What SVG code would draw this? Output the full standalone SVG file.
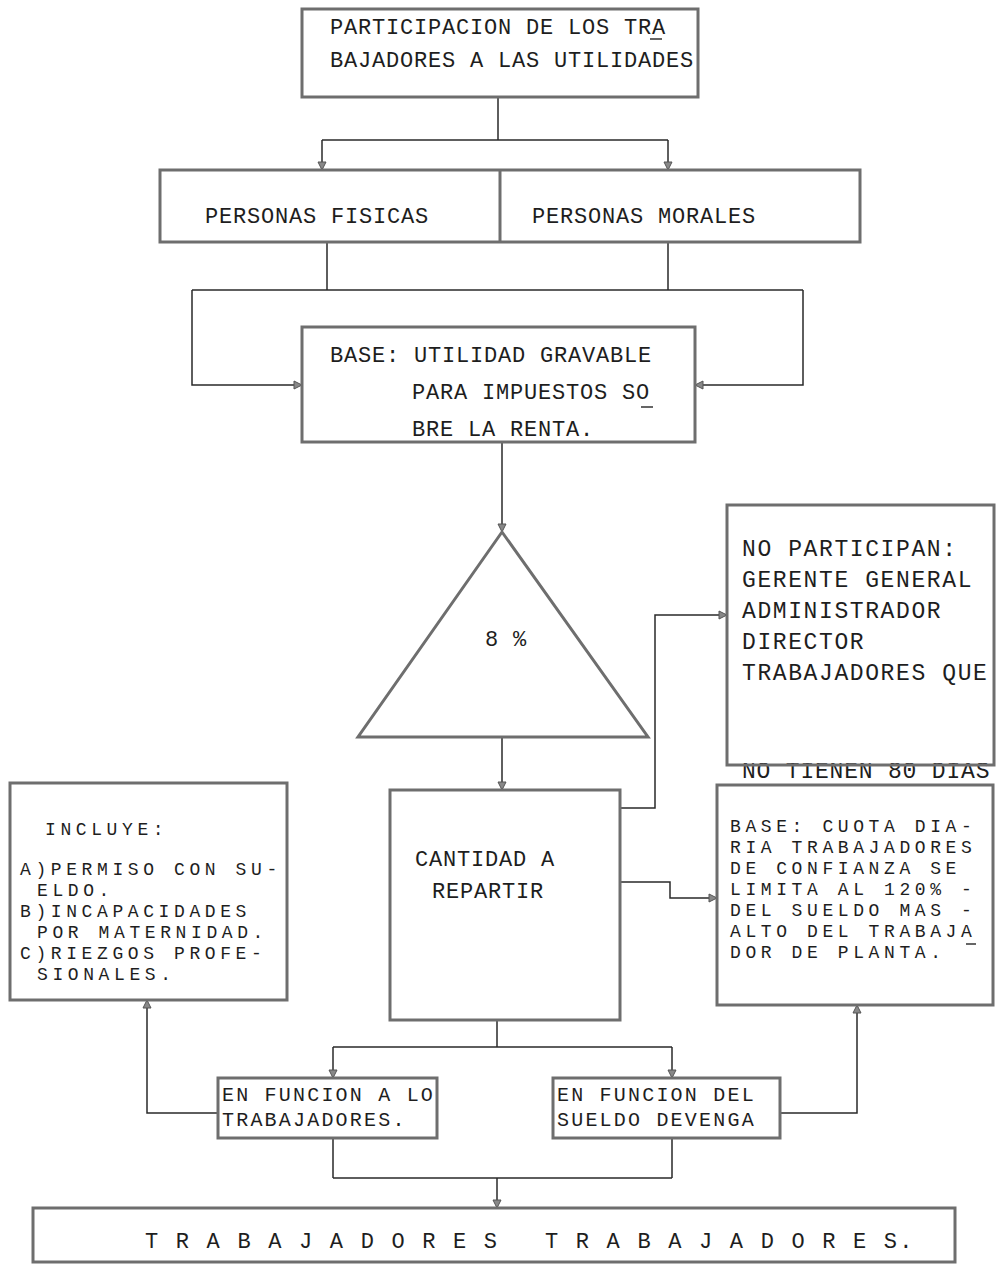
<svg xmlns="http://www.w3.org/2000/svg" width="996" height="1275" viewBox="0 0 996 1275">
<defs>
<style>
.box{fill:#fff;stroke:#6e6e6e;stroke-width:3}
.ln{fill:none;stroke:#2a2a2a;stroke-width:1.5}
.t{font-family:"Liberation Mono","DejaVu Sans Mono",monospace;font-size:22px;letter-spacing:0.8px;fill:#1e1e1e}
.w{font-size:23px;letter-spacing:1.6px}
.s{font-size:18px;letter-spacing:4.6px}
.f{font-size:20px;letter-spacing:2.2px}
.mk{stroke:#333;stroke-width:1.5}
</style>
<marker id="ah" markerWidth="10" markerHeight="10" refX="9" refY="5" orient="auto" markerUnits="userSpaceOnUse">
<path d="M1,1 L9,5 L1,9 Z" fill="#888" stroke="#555" stroke-width="1"/>
</marker>
</defs>
<rect width="996" height="1275" fill="#fff"/>

<g id="connectors">
<path class="ln" d="M498,97 V140 M322,140 H668" />
<path class="ln" d="M322,140 V170" marker-end="url(#ah)"/>
<path class="ln" d="M668,140 V170" marker-end="url(#ah)"/>
<path class="ln" d="M327,242 V290 M668,242 V290 M192,290 H803"/>
<path class="ln" d="M192,290 V385 H302" marker-end="url(#ah)"/>
<path class="ln" d="M803,290 V385 H695" marker-end="url(#ah)"/>
<path class="ln" d="M502,442 V532" marker-end="url(#ah)"/>
<path class="ln" d="M502,737 V790" marker-end="url(#ah)"/>
<path class="ln" d="M620,808 H655 V615 H727" marker-end="url(#ah)"/>
<path class="ln" d="M620,882 H670 V898 H717" marker-end="url(#ah)"/>
<path class="ln" d="M497,1020 V1047 M333,1047 H672"/>
<path class="ln" d="M333,1047 V1078" marker-end="url(#ah)"/>
<path class="ln" d="M672,1047 V1078" marker-end="url(#ah)"/>
<path class="ln" d="M218,1113 H147 V1000" marker-end="url(#ah)"/>
<path class="ln" d="M780,1113 H857 V1005" marker-end="url(#ah)"/>
<path class="ln" d="M333,1138 V1178 M672,1138 V1178 M333,1178 H672"/>
<path class="ln" d="M497,1178 V1208" marker-end="url(#ah)"/>
</g>

<g id="n-participacion">
<rect class="box" x="302" y="9" width="396" height="88"/>
<text class="t" x="330" y="34">PARTICIPACION DE LOS TRA</text>
<text class="t" x="330" y="67">BAJADORES A LAS UTILIDADES</text>
<line class="mk" x1="650" y1="39" x2="662" y2="39"/>
</g>

<g id="n-personas">
<rect class="box" x="160" y="170" width="700" height="72"/>
<line class="box" x1="500" y1="170" x2="500" y2="242"/>
<text class="t" x="205" y="223">PERSONAS FISICAS</text>
<text class="t" x="532" y="223">PERSONAS MORALES</text>
</g>

<g id="n-base">
<rect class="box" x="302" y="327" width="393" height="115"/>
<text class="t" x="330" y="362">BASE: UTILIDAD GRAVABLE</text>
<text class="t" x="412" y="399">PARA IMPUESTOS SO</text>
<text class="t" x="412" y="436">BRE LA RENTA.</text>
<line class="mk" x1="641" y1="407" x2="653" y2="407"/>
</g>

<g id="n-triangle">
<polygon class="box" points="502,532 358,737 648,737"/>
<text class="t" x="485" y="646">8 %</text>
</g>

<g id="n-cantidad">
<rect class="box" x="390" y="790" width="230" height="230"/>
<text class="t" x="415" y="866">CANTIDAD A</text>
<text class="t" x="432" y="898">REPARTIR</text>
</g>

<g id="n-noparticipan">
<text class="t w" x="742" y="778" style="letter-spacing:0.8px">NO TIENEN 80 DIAS</text>
<rect class="box" x="727" y="505" width="267" height="260" fill-opacity="0"/>
<rect x="729" y="507" width="263" height="256" fill="#fff"/>
<text class="t w" x="742" y="556">NO PARTICIPAN:</text>
<text class="t w" x="742" y="587">GERENTE GENERAL</text>
<text class="t w" x="742" y="618">ADMINISTRADOR</text>
<text class="t w" x="742" y="649">DIRECTOR</text>
<text class="t w" x="742" y="680">TRABAJADORES QUE</text>
</g>

<g id="n-incluye">
<rect class="box" x="10" y="783" width="277" height="217"/>
<text class="t s" x="45" y="835">INCLUYE:</text>
<text class="t s" x="20" y="875">A)PERMISO CON SU-</text>
<text class="t s" x="37" y="896">ELDO.</text>
<text class="t s" x="20" y="917">B)INCAPACIDADES</text>
<text class="t s" x="37" y="938">POR MATERNIDAD.</text>
<text class="t s" x="20" y="959">C)RIEZGOS PROFE-</text>
<text class="t s" x="37" y="980">SIONALES.</text>
</g>

<g id="n-basecuota">
<rect class="box" x="717" y="785" width="276" height="220"/>
<text class="t s" x="730" y="832">BASE: CUOTA DIA-</text>
<text class="t s" x="730" y="853">RIA TRABAJADORES</text>
<text class="t s" x="730" y="874">DE CONFIANZA SE</text>
<text class="t s" x="730" y="895">LIMITA AL 120% -</text>
<text class="t s" x="730" y="916">DEL SUELDO MAS -</text>
<text class="t s" x="730" y="937">ALTO DEL TRABAJA</text>
<text class="t s" x="730" y="958">DOR DE PLANTA.</text>
<line class="mk" x1="966" y1="944" x2="976" y2="944"/>
</g>

<g id="n-funcion-trab">
<rect class="box" x="218" y="1078" width="219" height="60"/>
<text class="t f" x="222" y="1101">EN FUNCION A LO</text>
<text class="t f" x="222" y="1126">TRABAJADORES.</text>
</g>

<g id="n-funcion-sueldo">
<rect class="box" x="553" y="1078" width="227" height="60"/>
<text class="t f" x="557" y="1101">EN FUNCION DEL</text>
<text class="t f" x="557" y="1126">SUELDO DEVENGA</text>
</g>

<g id="n-trabajadores">
<rect class="box" x="33" y="1208" width="922" height="54"/>
<text class="t" x="145" y="1248" style="letter-spacing:2.2px">T R A B A J A D O R E S</text>
<text class="t" x="545" y="1248" style="letter-spacing:2.2px">T R A B A J A D O R E S.</text>
</g>
</svg>
